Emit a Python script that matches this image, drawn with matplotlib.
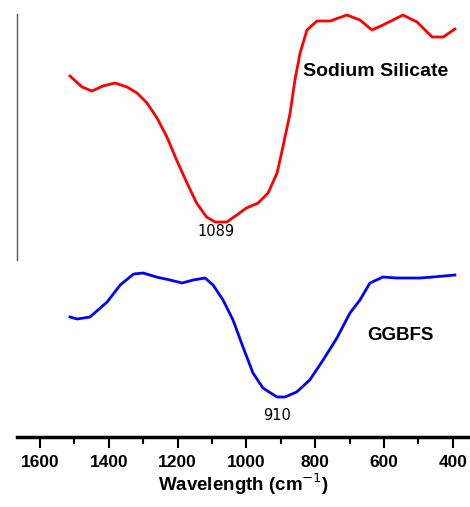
import matplotlib.pyplot as plt

# FTIR spectra (transmittance, arbitrary units)
ss_wavenumber = [1513, 1478, 1449, 1417, 1382, 1347, 1318, 1289, 1260, 1231,
                 1203, 1174, 1145, 1116, 1091, 1057, 1028, 1000, 966, 937,
                 911, 894, 873, 859, 844, 824, 795, 757, 708, 670,
                 635, 603, 545, 504, 460, 428, 394]
ss_transmittance = [361, 350, 346, 351, 354, 350, 344, 334, 319, 300,
                    277, 255, 234, 220, 215, 215, 222, 229, 234, 244,
                    264, 290, 324, 357, 384, 407, 416, 416, 422, 417,
                    407, 412, 422, 415, 400, 400, 408]

gg_wavenumber = [1513, 1492, 1455, 1405, 1367, 1328, 1300, 1262, 1222, 1187,
                 1155, 1120, 1097, 1068, 1039, 1010, 981, 952, 911, 888,
                 854, 816, 777, 737, 699, 670, 641, 603, 562, 495,
                 458, 394]
gg_transmittance = [120, 118, 120, 135, 152, 163, 164, 160, 157, 154,
                    157, 159, 152, 137, 117, 90, 64, 49, 40, 40,
                    45, 57, 77, 99, 124, 137, 154, 160, 159, 159,
                    160, 162]

x_ticks = [1600, 1400, 1200, 1000, 800, 600, 400]

fig = plt.figure(figsize=(4.7, 5.07), dpi=100)
ax = fig.add_axes([17 / 470, 70 / 507, 453 / 470, 437 / 507])

ax.plot(ss_wavenumber, ss_transmittance, color='#ff0000', lw=2.0)
ax.plot(gg_wavenumber, gg_transmittance, color='#0000ff', lw=2.0)

# labels on the curves
ax.text(1089, 206, '1089', fontsize=10.5, ha='center', va='center')
ax.text(910, 21, '910', fontsize=10.5, ha='center', va='center')
ax.text(836, 366, 'Sodium Silicate', fontsize=14, fontweight='bold',
        ha='left', va='center', family='Liberation Sans')
ax.text(553, 101, 'GGBFS', fontsize=13.5, fontweight='bold',
        ha='center', va='center', family='Liberation Sans')

ax.set_xlim(1667, 350)
ax.set_ylim(0, 437)
ax.set_xticks(x_ticks)
ax.set_xticks(range(1500, 350, -200), minor=True)
ax.set_xticklabels([str(t) for t in x_ticks], fontsize=12.5, fontweight='bold',
                   family='Liberation Sans')
ax.tick_params(axis='x', which='major', length=8, width=1.5, pad=5)
ax.tick_params(axis='x', which='minor', length=5, width=1.5)
ax.set_yticks([])

ax.spines['top'].set_visible(False)
ax.spines['right'].set_visible(False)
ax.spines['bottom'].set_linewidth(2.5)
ax.spines['left'].set_bounds(177, 423)
ax.spines['left'].set_color('#555555')
ax.spines['left'].set_linewidth(1)

ax.set_xlabel('Wavelength (cm$^{-1}$)', fontsize=13.5, fontweight='bold',
              family='Liberation Sans', labelpad=1)

fig.savefig('out.png', dpi=100)
